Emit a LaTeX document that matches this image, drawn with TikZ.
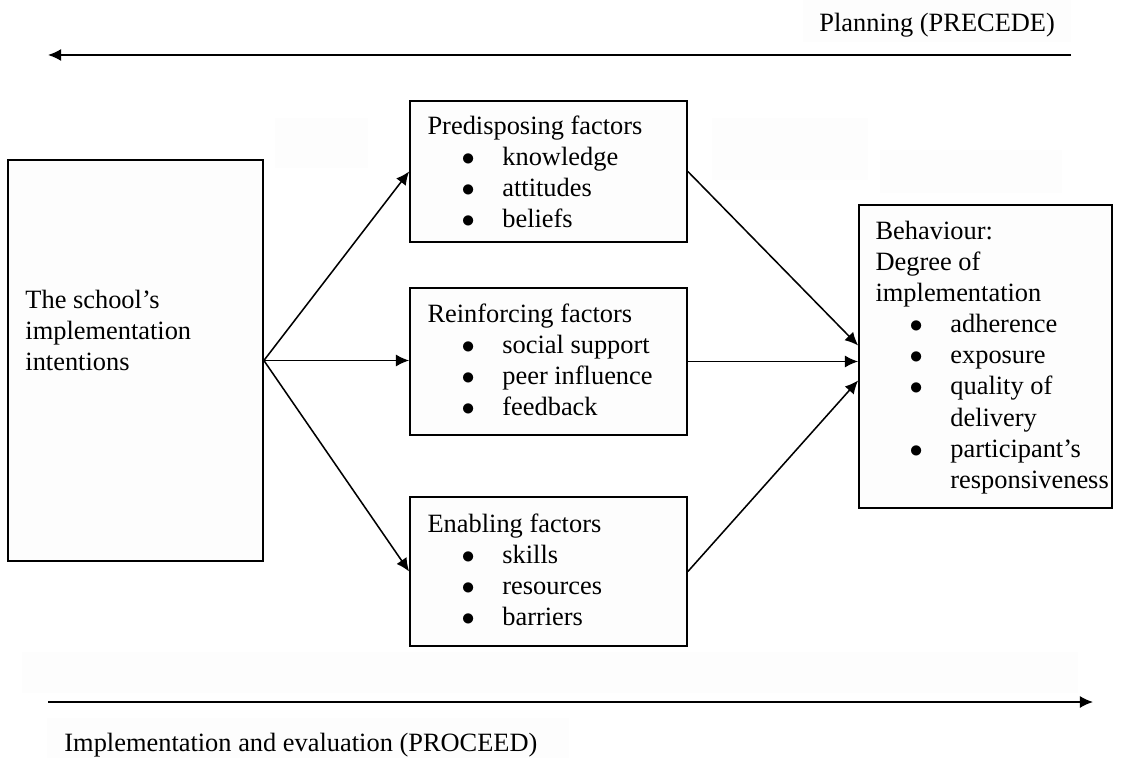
\documentclass[tikz,border=0pt]{standalone}
\usepackage{fontspec}
\setmainfont{Liberation Serif}
\usepackage{xcolor}
\usepackage{tikz}
\usetikzlibrary{arrows.meta, positioning, calc, fit}

\definecolor{faint}{HTML}{FDFDFD}

% one bullet line, and the indent of a wrapped line
\newcommand{\blt}[1]{\hspace*{15.5pt}\makebox[18.5pt][l]{$\bullet$}#1}
\newcommand{\ind}{\hspace*{34pt}}

\tikzset{
  box/.style={draw, line width=0.8pt, fill=faint, inner sep=0pt},
  shade/.style={fill=faint, draw=none, inner sep=0pt},
  lbl/.style={anchor=north west, inner sep=0pt, align=left, font=\fontsize{12}{14.1}\selectfont},
  flow/.style={-{Latex[length=6pt,width=5.5pt]}, line width=0.7pt}
}

\begin{document}
\begin{tikzpicture}[x=0.4545pt, y=-0.4545pt]
      \useasboundingbox (0,0) rectangle (1137,758);

      % faint patches
      \node[shade, fit={(803,0) (1071,42)}] (shtop) {};
      \node[shade, fit={(275,118) (368,168)}] (sha) {};
      \node[shade, fit={(712,118) (868,180)}] (shb) {};
      \node[shade, fit={(880,150) (1062,193)}] (shc) {};
      \node[shade, fit={(22,652) (1078,693)}] (shd) {};
      \node[shade, fit={(47,718) (569,758)}] (shbot) {};

      % boxes
      \node[box, fit={(8,160) (263,561)}] (school) {};
      \node[box, fit={(410,101) (687,242)}] (pred) {};
      \node[box, fit={(410,288) (687,435)}] (reinf) {};
      \node[box, fit={(410,497) (687,646)}] (enab) {};
      \node[box, fit={(859,205) (1112,508)}] (beh) {};

      \node[lbl] (schooltxt) at (25,290) {The school's\\implementation\\intentions};
      \node[lbl] (predtxt) at ($(pred.north west)+(18,15)$)
        {Predisposing factors\\\blt{knowledge}\\\blt{attitudes}\\\blt{beliefs}};
      \node[lbl] (reinftxt) at ($(reinf.north west)+(18,16)$)
        {Reinforcing factors\\\blt{social support}\\\blt{peer influence}\\\blt{feedback}};
      \node[lbl] (enabtxt) at ($(enab.north west)+(18,17)$)
        {Enabling factors\\\blt{skills}\\\blt{resources}\\\blt{barriers}};
      \node[lbl] (behtxt) at ($(beh.north west)+(17,17)$)
        {Behaviour:\\Degree of\\implementation\\\blt{adherence}\\\blt{exposure}\\\blt{quality of}\\\ind delivery\\\blt{participant's}\\\ind responsiveness};

      % fan out and in
      \draw[flow] (school.east) -- (pred.west);
      \draw[flow] (school.east) -- (school.east -| reinf.west);
      \draw[flow] (school.east) -- (enab.west);
      \draw[flow] (pred.east) -- ($(beh.west)+(0,-11)$);
      \draw[flow] (reinf.east) -- (reinf.east -| beh.west);
      \draw[flow] (enab.east) -- ($(beh.west)+(0,24)$);

      % phases
      \coordinate (pl0) at (1071,55);
      \coordinate (pl1) at (48,55);
      \draw[flow] (pl0) -- (pl1);
      \node[anchor=base west, inner sep=0pt, font=\fontsize{12}{14.1}\selectfont] (plan) at (819,32) {Planning (PRECEDE)};

      \coordinate (im0) at (48,702);
      \coordinate (im1) at (1093,702);
      \draw[flow] (im0) -- (im1);
      \node[anchor=base west, inner sep=0pt, font=\fontsize{12}{14.1}\selectfont] (impl) at (64,751) {Implementation and evaluation (PROCEED)};

    \end{tikzpicture}
\end{document}
